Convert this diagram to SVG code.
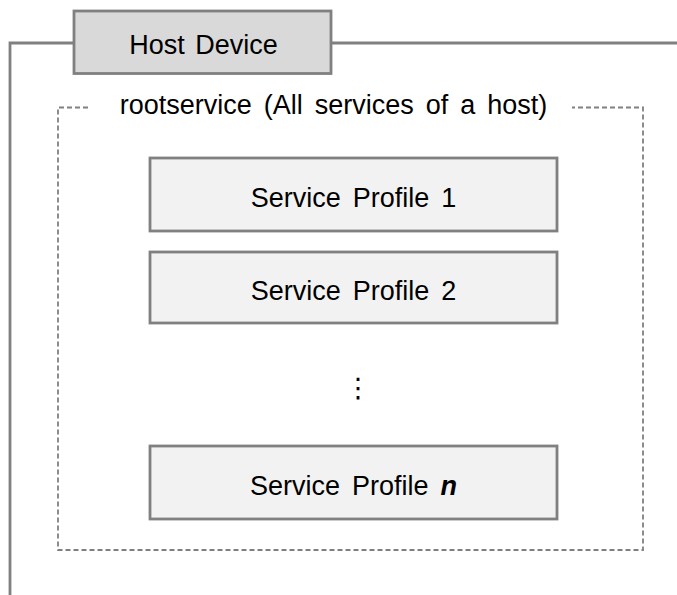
<svg xmlns="http://www.w3.org/2000/svg" width="677" height="595" viewBox="0 0 677 595">
  <style>
    .frame { fill: none; stroke: #808080; stroke-width: 2.8; }
    .dash { fill: none; stroke: #808080; stroke-width: 1.8; stroke-dasharray: 5 3; }
    .host { fill: #d9d9d9; stroke: #808080; stroke-width: 2.8; }
    .svc { fill: #f2f2f2; stroke: #808080; stroke-width: 2.8; }
    .lbl { font-family: "Liberation Sans", Arial, sans-serif; font-size: 27px; fill: #000; text-anchor: middle; word-spacing: 4.5px; }
  </style>
  <rect width="677" height="595" fill="#ffffff"/>
  <g id="host-frame">
    <path class="frame" d="M10,595 V43 H74 M331,43 H677"/>
  </g>
  <g id="host-device">
    <rect class="host" x="74" y="11" width="257" height="62.5"/>
    <text class="lbl" x="203.5" y="54" style="word-spacing:3px">Host Device</text>
  </g>
  <g id="rootservice">
    <path class="dash" d="M88,107.5 H58 V550 H643 V107.5 H572"/>
    <text class="lbl" x="333.5" y="113.5">rootservice (All services of a host)</text>
  </g>
  <g id="service-profile-1">
    <rect class="svc" x="150" y="158" width="407" height="73"/>
    <text class="lbl" x="353.5" y="206.5">Service Profile 1</text>
  </g>
  <g id="service-profile-2">
    <rect class="svc" x="150" y="252" width="407" height="71"/>
    <text class="lbl" x="353.5" y="299.5">Service Profile 2</text>
  </g>
  <g id="ellipsis">
    <text x="358" y="397" font-family="DejaVu Sans, sans-serif" font-size="27" text-anchor="middle" fill="#000">⋮</text>
  </g>
  <g id="service-profile-n">
    <rect class="svc" x="150" y="446" width="407" height="73"/>
    <text class="lbl" x="353.5" y="494.5">Service Profile <tspan font-style="italic" font-weight="bold">n</tspan></text>
  </g>
  <g id="connectors"/>
</svg>
